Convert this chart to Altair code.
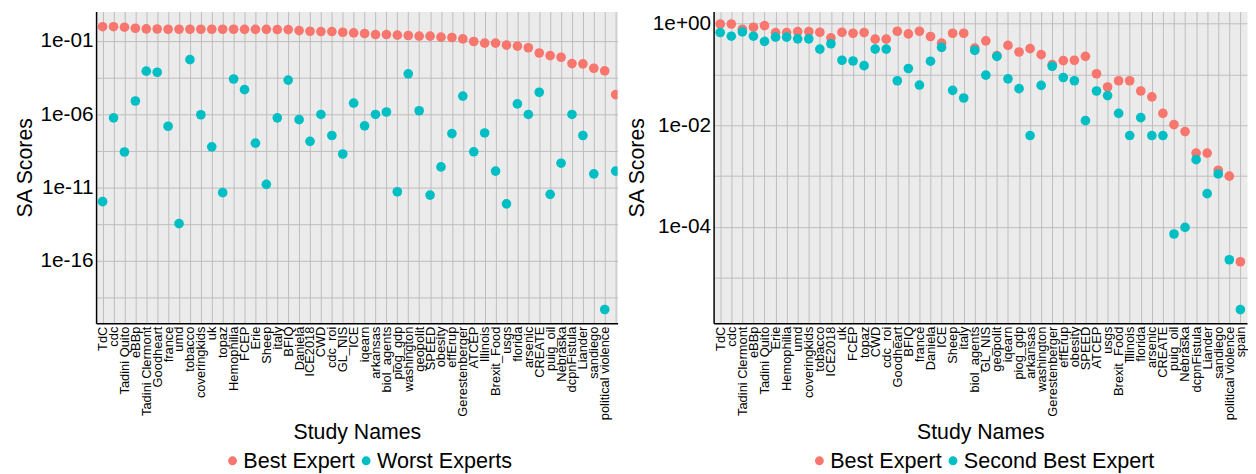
import json
import altair as alt
import pandas as pd

# ---------------- data ----------------
left_names = ["TdC", "cdc", "Tadini Quito", "eBBp", "Tadini Clermont", "Goodheart", "france", "umd",
              "tobacco", "coveringkids", "uk", "topaz", "Hemophilia", "FCEP", "Erie", "Sheep", "italy",
              "BFIQ", "Daniela", "ICE2018", "CWD", "cdc_roi", "GL_NIS", "ICE", "iqearn", "arkansas",
              "biol_agents", "piog_gdp", "washington", "geopolit", "SPEED", "obesity", "effErup",
              "Gerestenberger", "ATCEP", "Illinois", "Brexit_Food", "usgs", "florida", "arsenic",
              "CREATE", "puig_oil", "Nebraska", "dcpnFistula", "Liander", "sandiego",
              "political violence", "spain"]
left_best = [0.92, 0.92, 0.85, 0.721, 0.650, 0.64, 0.62, 0.62, 0.62, 0.62, 0.62, 0.62, 0.62, 0.61,
             0.61, 0.61, 0.586, 0.586, 0.501, 0.452, 0.430, 0.430, 0.387, 0.349, 0.316, 0.269, 0.269,
             0.243, 0.231, 0.209, 0.209, 0.178, 0.169, 0.137, 0.0906, 0.070, 0.070, 0.0513, 0.0437,
             0.0339, 0.0148, 0.00977, 0.00759, 0.00282, 0.00269, 0.00135, 0.000891, 2.14e-5]
left_worst = [1.07e-12, 5.6e-7, 2.6e-9, 7.9e-6, 8.5e-4, 7.2e-4, 1.5e-7, 3.4e-14, 5.2e-3, 9.1e-7,
              5.9e-9, 4.4e-12, 2.5e-4, 4.7e-5, 1.05e-8, 1.6e-11, 5.6e-7, 2.1e-4, 4.2e-7, 1.4e-8,
              9.5e-7, 3.5e-8, 1.9e-9, 5.6e-6, 1.6e-7, 9.5e-7, 1.4e-6, 5.1e-12, 5.6e-4, 1.7e-6,
              3.0e-12, 2.5e-10, 4.7e-8, 1.7e-5, 2.7e-9, 5.2e-8, 1.3e-10, 7.6e-13, 5.0e-6, 9.5e-7,
              3.1e-5, 3.4e-12, 4.5e-10, 9.5e-7, 3.5e-8, 8.5e-11, 4.7e-20, 1.3e-10]

right_names = ["TdC", "cdc", "Tadini Clermont", "eBBp", "Tadini Quito", "Erie", "Hemophilia", "umd",
               "coveringkids", "tobacco", "ICE2018", "uk", "FCEP", "topaz", "CWD", "cdc_roi",
               "Goodheart", "BFIQ", "france", "Daniela", "ICE", "Sheep", "italy", "biol_agents",
               "GL_NIS", "geopolit", "iqearn", "piog_gdp", "arkansas", "washington", "Gerestenberger",
               "effErup", "obesity", "SPEED", "ATCEP", "usgs", "Brexit_Food", "Illinois", "florida",
               "arsenic", "CREATE", "puig_oil", "Nebraska", "dcpnFistula", "Liander", "sandiego",
               "political violence", "spain"]
right_best = [0.984, 0.984, 0.774, 0.847, 0.912, 0.667, 0.667, 0.697, 0.697, 0.676, 0.525, 0.676,
              0.647, 0.667, 0.494, 0.494, 0.708, 0.628, 0.708, 0.557, 0.413, 0.647, 0.647, 0.330,
              0.458, 0.234, 0.372, 0.276, 0.321, 0.245, 0.156, 0.187, 0.190, 0.227, 0.103, 0.0565,
              0.075, 0.075, 0.0472, 0.0361, 0.0171, 0.0103, 0.0075, 0.00283, 0.00283, 0.0013,
              0.000995, 2.06e-5]
right_second = [0.667, 0.565, 0.687, 0.565, 0.446, 0.541, 0.541, 0.501, 0.501, 0.315, 0.401, 0.190,
                0.184, 0.149, 0.315, 0.315, 0.075, 0.131, 0.0618, 0.182, 0.340, 0.0486, 0.0344,
                0.297, 0.0968, 0.227, 0.082, 0.0524, 0.00627, 0.0608, 0.145, 0.0871, 0.075, 0.0123,
                0.0472, 0.0383, 0.0171, 0.00627, 0.0141, 0.00627, 0.00627, 7.24e-5, 9.77e-5,
                0.0021, 0.00045, 0.0011, 2.25e-5, 2.35e-6]

left_groups = ["Best Expert", "Worst Experts"]
right_groups = ["Best Expert", "Second Best Expert"]

# gridline positions (major decades + ggplot-style minor lines) and labelled exponents
left_y_ticks = [1e-1, 3.1623e-4, 1e-6, 3.1623e-9, 1e-11, 3.1623e-14, 1e-16, 3.1623e-19]
left_y_label_exps = [-1, -6, -11, -16]
right_y_ticks = [1e0, 1e-1, 1e-2, 1e-3, 1e-4, 1e-5]
right_y_label_exps = [0, -2, -4]

COLORS = ["#F8766D", "#00BFC4"]
FONT = "Liberation Sans"


def make_df(names, a, b, groups):
    n = len(names)
    return pd.DataFrame({
        "idx": list(range(n)) * 2,
        "study": names * 2,
        "group": [groups[0]] * n + [groups[1]] * n,
        "score": a + b,
    })


def y_label_expr(exps):
    e = "round(log(datum.value)/LN10)"
    keep = " || ".join(f"{e} == {k}" for k in exps)
    return (f"!({keep}) || abs(log(datum.value)/LN10 - {e}) > 0.01 ? '' : "
            f"'1e' + ({e} < 0 ? '-' : '+') + (abs({e}) < 10 ? '0' : '') + abs({e})")


def panel(names, a, b, groups, x_domain, y_domain, y_ticks, y_exps, width, legend_x, hide_last):
    n = len(names)
    arr = json.dumps(names)
    if hide_last:
        x_expr = f"datum.value < {n - 1} ? {arr}[datum.value] : ''"
    else:
        x_expr = f"{arr}[datum.value]"
    df = make_df(names, a, b, groups)
    return alt.Chart(df).mark_circle(size=95, opacity=1, clip=True).encode(
        x=alt.X("idx:Q",
                scale=alt.Scale(domain=x_domain, nice=False, zero=False),
                axis=alt.Axis(values=list(range(n)), labelExpr=x_expr, title="Study Names",
                              labelAngle=270, labelOverlap=False, labelFlush=False,
                              labelBound=False, labelFontSize=13, labelPadding=3,
                              titlePadding=2, labelLimit=300)),
        y=alt.Y("score:Q",
                scale=alt.Scale(type="log", domain=y_domain, nice=False),
                axis=alt.Axis(values=y_ticks, labelExpr=y_label_expr(y_exps), title="SA Scores",
                              labelFontSize=21, labelPadding=3, titlePadding=4)),
        color=alt.Color("group:N",
                        scale=alt.Scale(domain=groups, range=COLORS),
                        legend=alt.Legend(title=None, orient="none", legendX=legend_x,
                                          legendY=443, direction="horizontal", columns=2,
                                          labelFontSize=21.8, labelFont=FONT, labelLimit=400,
                                          symbolSize=80, symbolType="circle",
                                          symbolStrokeWidth=0, columnPadding=0,
                                          labelOffset=0, padding=0)),
    ).properties(width=width, height=315)


left = panel(left_names, left_best, left_worst, left_groups,
             [-0.6, 47.18], [5.53e-21, 10.16], left_y_ticks, left_y_label_exps, 527, 127, True)
right = panel(right_names, right_best, right_second, right_groups,
              [-0.6, 47.6], [1.274e-6, 1.738], right_y_ticks, right_y_label_exps, 539, 96, False)

chart = alt.hconcat(left, right, spacing=2).resolve_scale(color="independent").properties(
    padding={"left": 5, "top": 0, "right": 0, "bottom": 0}
).configure(font=FONT, background="white").configure_view(
    fill="#EBEBEB", stroke="transparent"
).configure_axis(
    domainColor="black", domainWidth=1.5, gridColor="#BDBDBD", gridWidth=1,
    ticks=False, tickSize=0, labelColor="black", titleColor="black",
    titleFontWeight="normal", titleFontSize=21.5, labelFont=FONT, titleFont=FONT
)

chart.save("out.html", embed_options={"renderer": "svg", "actions": False})
